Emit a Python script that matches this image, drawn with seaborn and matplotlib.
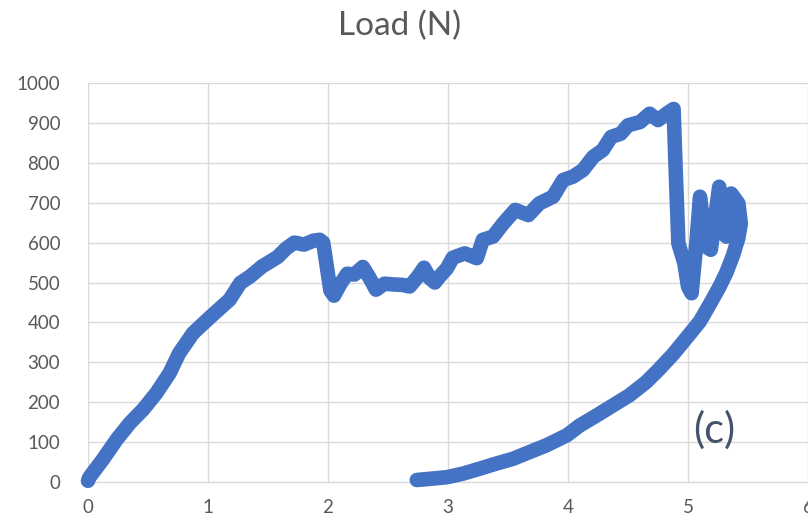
import matplotlib
matplotlib.use("Agg")
import matplotlib.pyplot as plt
import seaborn as sns
import pandas as pd

# displacement / load trace (loading, drop, oscillation, unloading)
disp = [0.0, 0.01, 0.125, 0.24, 0.35, 0.46, 0.57, 0.68, 0.76, 0.875, 1.01, 1.18,
        1.27, 1.35, 1.45, 1.58, 1.65, 1.72, 1.8, 1.88, 1.93, 1.96,
        1.98, 2.02, 2.05, 2.1, 2.16, 2.22, 2.29, 2.34, 2.4, 2.47, 2.55, 2.62, 2.68,
        2.75, 2.8, 2.85, 2.89, 2.93, 2.99, 3.04, 3.14, 3.24, 3.29, 3.375, 3.46, 3.56,
        3.67, 3.76, 3.875, 3.96, 4.04, 4.125, 4.21, 4.29, 4.36, 4.44, 4.5, 4.6, 4.68,
        4.75, 4.82, 4.88,
        4.9, 4.92, 4.97, 5.0, 5.03, 5.07, 5.1, 5.15, 5.19, 5.26, 5.29, 5.32, 5.36,
        5.42, 5.43, 5.44,
        5.42, 5.375, 5.32, 5.26, 5.19, 5.1, 4.99, 4.875, 4.76, 4.65, 4.51, 4.375,
        4.24, 4.1, 3.99, 3.82, 3.68, 3.54, 3.4, 3.26, 3.125, 2.99, 2.85, 2.74]
load = [3, 11, 57, 107, 148, 182, 223, 273, 323, 373, 411, 457,
        499, 515, 540, 564, 585, 600, 595, 605, 607, 600,
        560, 480, 467, 495, 522, 520, 539, 515, 482, 497, 495, 494, 490,
        515, 537, 510, 500, 515, 535, 562, 573, 561, 607, 615, 648, 682,
        669, 698, 715, 757, 765, 782, 815, 832, 865, 873, 894, 902, 923,
        907, 923, 935,
        760, 598, 548, 490, 473, 600, 715, 590, 582, 740, 623, 615, 723,
        698, 673, 648,
        612, 568, 525, 488, 450, 403, 362, 320, 283, 250, 217, 192,
        167, 142, 117, 92, 75, 58, 46, 33, 21, 12, 8, 5]

x_ticks = [0, 1, 2, 3, 4, 5, 6]
y_ticks = [0, 100, 200, 300, 400, 500, 600, 700, 800, 900, 1000]

df = pd.DataFrame({"disp": disp, "load": load})

sns.set_style("white")
plt.rcParams["font.family"] = ["Lato", "DejaVu Sans"]

fig = plt.figure(figsize=(8.08, 5.26), dpi=100)
ax = fig.add_axes([88 / 808, 1 - 482 / 526, 720 / 808, 399 / 526])

sns.lineplot(data=df, x="disp", y="load", sort=False, estimator=None,
             color="#4472C4", linewidth=10.5, ax=ax)
for l in ax.lines:
    l.set_solid_capstyle("round")
    l.set_solid_joinstyle("round")
    l.set_clip_on(False)
    l.set_zorder(3)

ax.set_xlim(0, 6)
ax.set_ylim(0, 1000)
ax.set_xticks(x_ticks)
ax.set_yticks(y_ticks)
ax.grid(True, color="#D9D9D9", linewidth=1.0)
ax.set_axisbelow(True)
for side in ["top", "right", "left"]:
    ax.spines[side].set_visible(False)
ax.spines["bottom"].set_color("#D9D9D9")
ax.spines["bottom"].set_linewidth(1.0)
ax.tick_params(length=0, labelsize=13.5, labelcolor="#595959")
ax.tick_params(axis="y", pad=20)
ax.tick_params(axis="x", pad=12)
ax.set_xlabel("")
ax.set_ylabel("")

ax.text(5.22, 130, "(c)", fontsize=30, color="#44546A", ha="center", va="center")
fig.text(0.495, 1 - 26 / 526, "Load (N)", fontsize=24, color="#595959",
         ha="center", va="center")

fig.savefig("out.png", dpi=100)
plt.close(fig)
